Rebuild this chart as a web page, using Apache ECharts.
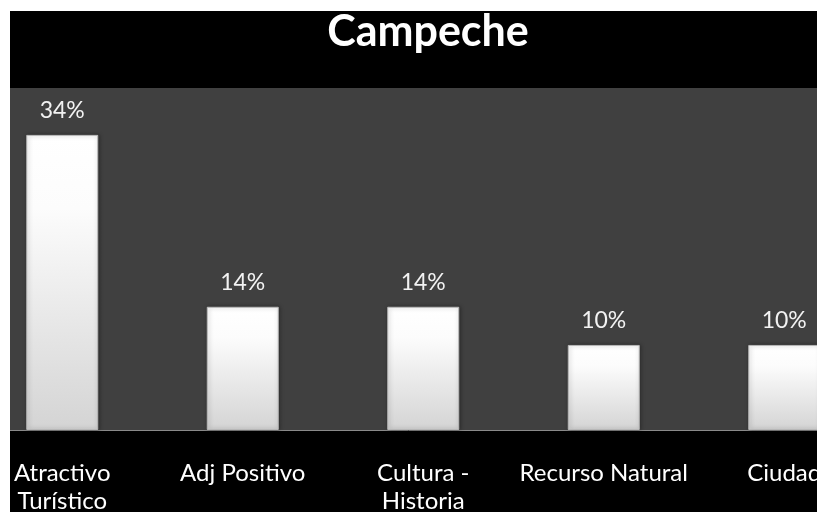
<!DOCTYPE html>
<html><head><meta charset="utf-8">
<script src="https://cdn.jsdelivr.net/npm/echarts@6/dist/echarts.min.js"></script>
<style>html,body{margin:0;padding:0;background:#fff}#c{width:817px;height:512px}</style>
</head><body><div id="c"></div>
<script>
const titleText = "Campeche";
const categories = ["Atractivo\nTurístico", "Adj Positivo", "Cultura -\nHistoria", "Recurso Natural", "Ciudad"];
const values = [34.0, 14.2, 14.2, 9.8, 9.8];

const chart = echarts.init(document.getElementById('c'));
const FONT = 'Lato';
chart.setOption({
  backgroundColor: '#ffffff',
  animation: false,
  title: {
    text: titleText, left: 423, top: 6, textAlign: 'center',
    textStyle: { color: '#ffffff', fontFamily: FONT, fontWeight: 'bold', fontSize: 43 }
  },
  graphic: [
    { type: 'rect', z: -100, silent: true, shape: { x: 10, y: 11, width: 807, height: 501 }, style: { fill: '#000000' } },
    { type: 'rect', z: -90, silent: true, shape: { x: 10, y: 88, width: 807, height: 342 }, style: { fill: '#404040' } },
    { type: 'rect', z: 100, silent: true, shape: { x: 0, y: 0, width: 10, height: 512 }, style: { fill: '#ffffff' } }
  ],
  grid: { left: -28, width: 902.5, top: 88, bottom: 82, containLabel: false, outerBoundsMode: 'none' },
  xAxis: {
    type: 'category', data: categories,
    axisLine: { show: true, lineStyle: { color: '#8a8a8a', width: 1 } },
    axisTick: { show: false },
    axisLabel: { color: '#ffffff', fontFamily: FONT, fontSize: 24, margin: 29, lineHeight: 28, interval: 0, hideOverlap: false }
  },
  yAxis: { type: 'value', min: 0, max: 39.4, show: false, splitLine: { show: false } },
  series: [{
    type: 'bar', data: values, barWidth: 72,
    itemStyle: {
      color: new echarts.graphic.LinearGradient(0, 0, 0, 1, [
        { offset: 0, color: '#ffffff' }, { offset: 0.25, color: '#fcfcfc' }, { offset: 1, color: '#d4d4d4' }
      ]),
      borderColor: '#b8b8b8', borderWidth: 1,
      shadowColor: 'rgba(0,0,0,0.35)', shadowBlur: 4, shadowOffsetX: 1
    },
    label: {
      show: true, position: 'top', distance: 13, color: '#f2f2f2',
      fontFamily: FONT, fontSize: 23,
      formatter: p => Math.round(p.value) + '%'
    }
  }]
});
</script></body></html>
